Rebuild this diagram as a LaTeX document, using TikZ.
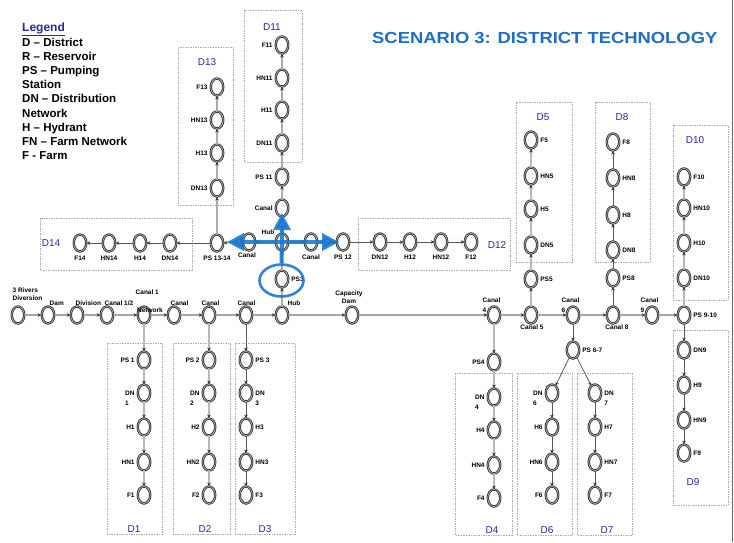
\documentclass[tikz,border=0pt]{standalone}
\usepackage{fontspec}
\usepackage{graphicx}
\setmainfont{Liberation Sans}
\usetikzlibrary{arrows.meta,shapes.geometric}
\definecolor{dblue}{RGB}{40,40,160}
\definecolor{tblue}{RGB}{30,110,195}
\definecolor{hblue}{RGB}{25,118,210}
\begin{document}
\begin{tikzpicture}[x=1pt,y=-1pt,label distance=2pt,
 nd/.style={ellipse,draw=black!80,line width=0.9pt,double=gray!45,double distance=0.6pt,fill=white,minimum width=12.5pt,minimum height=17pt,inner sep=0pt},
 lbl/.style={font=\fontsize{6.5}{7.5}\selectfont\bfseries,inner sep=0.5pt,text=black},
 lbltwo/.style={font=\fontsize{6.5}{10}\selectfont\bfseries,inner sep=0.5pt,text=black,align=left},
 L/.style={label={[lbl]left:#1}},
 R/.style={label={[lbl]right:#1}},
 B/.style={label={[lbl,label distance=3.5pt]below:#1}},
 LL/.style={label={[lbltwo,anchor=north east,yshift=3pt]west:#1}},
 RR/.style={label={[lbltwo,anchor=north west,yshift=3pt]east:#1}},
 dl/.style={font=\fontsize{10}{11}\selectfont,text=dblue,inner sep=0pt},
 dbox/.style={draw=gray!65,line width=0.9pt,dash pattern=on 1.5pt off 1pt},
 fl/.style={draw=gray!70,line width=1.4pt,-{Stealth[length=3.5pt,width=3.5pt,color=black!80]}},
 tk/.style={draw=gray!55,line width=2.4pt,-{Stealth[length=3.5pt,width=3.5pt,color=black!80]}},
 md/.style={draw=gray!65,line width=1.5pt,-{Stealth[length=3.5pt,width=3.5pt,color=black!80]}},
 tn/.style={draw=black!65,line width=0.8pt,-{Stealth[length=3.5pt,width=3.5pt,color=black!80]}},
 ba/.style={draw=hblue,opacity=0.88,line width=4pt,-{Triangle[length=17pt,width=17pt]}}]
\useasboundingbox (0,0) rectangle (734,542);
% right border line
\draw[black!60,line width=1pt] (732.5,0) -- (732.5,542);
% dashed district boxes
\foreach \a/\b/\c/\d in {107/343/162/534, 173/343/230/534, 235/343/295/534,
  455/373/512/535, 517/373/572/535, 577/373/632/535,
  516/102/572/262, 595/102/650/262, 673/125/728/300, 673/330/728/505,
  244/10/302/162, 178/47/233/205, 40/218/192/270, 358/218/510/270}
  \draw[dbox] (\a,\b) rectangle (\c,\d);
% title and legend
\node[font=\fontsize{16}{16}\selectfont\bfseries,text=tblue,anchor=west,inner sep=0pt] (title) at (372,38) {\scalebox{1.15}[1]{SCENARIO 3: DISTRICT TECHNOLOGY}};
\node[font=\fontsize{12}{12}\selectfont\bfseries,text=dblue,anchor=base west,inner sep=0pt] (leghead) at (22,31) {\underline{Legend}};
\node[font=\fontsize{11.5}{14.2}\selectfont\bfseries,align=left,anchor=north west,inner sep=0pt] (legend) at (22,37.5)
 {D – District\\R – Reservoir\\PS – Pumping\\Station\\DN – Distribution\\Network\\H – Hydrant\\FN – Farm Network\\F - Farm};
% main line nodes
\node[nd] (m1) at (18,315) {};
\node[nd] (m2) at (48,315) {};
\node[nd] (m3) at (77,315) {};
\node[nd] (m4) at (107,315) {};
\node[nd] (m5) at (144,315) {};
\node[nd] (m6) at (174,315) {};
\node[nd] (m7) at (209,315) {};
\node[nd] (m8) at (246,315) {};
\node[nd] (m9) at (282,315) {};
\node[nd] (m10) at (352,315) {};
\node[nd] (m11) at (494,315) {};
\node[nd] (m12) at (531,315) {};
\node[nd] (m13) at (573,315) {};
\node[nd] (m14) at (613,315) {};
\node[nd] (m15) at (652,315) {};
\node[nd,R=PS 9-10] (m16) at (684,315) {};
% main line labels
\node[lbl,align=left,anchor=south west] (t1) at (12,301) {3 Rivers\\Diversion};
\node[lbl,anchor=south west] (t2) at (49,306) {Dam};
\node[lbl,anchor=south west] (t3) at (75,306) {Division};
\node[lbl,anchor=south west] (t4) at (104,306) {Canal 1/2};
\node[lbl,anchor=south west] (t5a) at (135,295) {Canal 1};
\node[lbl] (t5b) at (150,310) {Network};
\node[lbl,anchor=south west] (t6) at (170,306) {Canal};
\node[lbl,anchor=south west] (t7) at (201,306) {Canal};
\node[lbl,anchor=south west] (t8) at (237,306) {Canal};
\node[lbl,anchor=south west] (t9) at (287,306) {Hub};
\node[lbl,align=center,anchor=south] (t10) at (349,304) {Capacity\\Dam};
\node[lbltwo,anchor=north west] (t11) at (482,297) {Canal\\4};
\node[lbl,anchor=north] (t12) at (532,324.5) {Canal 5};
\node[lbltwo,anchor=north west] (t13) at (561,297) {Canal\\6};
\node[lbl,anchor=north] (t14) at (617,324.5) {Canal 8};
\node[lbltwo,anchor=north west] (t15) at (640,297) {Canal\\9};
% D1, D2 (labels left), D3 (labels right)
\node[nd,L=PS 1] (ps1) at (144,360) {};
\node[nd,LL=DN\\1] (dn1) at (144,393) {};
\node[nd,L=H1] (h1) at (144,427) {};
\node[nd,L=HN1] (hn1) at (144,462) {};
\node[nd,L=F1] (f1) at (144,495) {};
\node[nd,L=PS 2] (ps2) at (209,360) {};
\node[nd,LL=DN\\2] (dn2) at (209,393) {};
\node[nd,L=H2] (h2) at (209,427) {};
\node[nd,L=HN2] (hn2) at (209,462) {};
\node[nd,L=F2] (f2) at (209,495) {};
\node[nd,R=PS 3] (ps3) at (246,360) {};
\node[nd,RR=DN\\3] (dn3) at (246,393) {};
\node[nd,R=H3] (h3) at (246,427) {};
\node[nd,R=HN3] (hn3) at (246,462) {};
\node[nd,R=F3] (f3) at (246,495) {};
% D4, D6, D7
\node[nd,L=PS4] (ps4) at (494,362) {};
\node[nd,LL=DN\\4] (dn4) at (494,397) {};
\node[nd,L=H4] (h4) at (494,430) {};
\node[nd,L=HN4] (hn4) at (494,465) {};
\node[nd,L=F4] (f4) at (494,498) {};
\node[nd,R=PS 6-7] (ps67) at (573,350) {};
\node[nd,LL=DN\\6] (dn6) at (552,393) {};
\node[nd,L=H6] (h6) at (552,427) {};
\node[nd,L=HN6] (hn6) at (552,462) {};
\node[nd,L=F6] (f6) at (552,495) {};
\node[nd,RR=DN\\7] (dn7) at (595,393) {};
\node[nd,R=H7] (h7) at (595,427) {};
\node[nd,R=HN7] (hn7) at (595,462) {};
\node[nd,R=F7] (f7) at (595,495) {};
% D5, D8, D10, D9
\node[nd,R=PS5] (ps5) at (531,279) {};
\node[nd,R=DN5] (dn5) at (531,245) {};
\node[nd,R=H5] (h5) at (531,209) {};
\node[nd,R=HN5] (hn5) at (531,176) {};
\node[nd,R=F5] (f5) at (531,140) {};
\node[nd,R=PS8] (ps8) at (613,278) {};
\node[nd,R=DN8] (dn8) at (613,250) {};
\node[nd,R=H8] (h8) at (613,215) {};
\node[nd,R=HN8] (hn8) at (613,178) {};
\node[nd,R=F8] (f8) at (613,142) {};
\node[nd,R=DN10] (dn10) at (684,278) {};
\node[nd,R=H10] (h10) at (684,243) {};
\node[nd,R=HN10] (hn10) at (684,208) {};
\node[nd,R=F10] (f10) at (684,177) {};
\node[nd,R=DN9] (dn9) at (684,350) {};
\node[nd,R=H9] (h9) at (684,385) {};
\node[nd,R=HN9] (hn9) at (684,420) {};
\node[nd,R=F9] (f9) at (684,453) {};
% upper network
\node[nd,R=PS3] (psc) at (282,279) {};
\node[nd] (hub) at (282,242) {};
\node[lbl,anchor=south east] (thub) at (275,235.5) {Hub};
\node[nd,L=Canal] (c11) at (282,208) {};
\node[nd,L=PS 11] (ps11) at (282,177) {};
\node[nd,L=DN11] (dn11) at (282,143) {};
\node[nd,L=H11] (h11) at (282,110) {};
\node[nd,L=HN11] (hn11) at (282,78) {};
\node[nd,L=F11] (f11) at (282,45) {};
\node[nd] (cl) at (249,242) {};
\node[lbl,anchor=north] (tcl) at (247,252.5) {Canal};
\node[nd,B=Canal] (cr) at (311,242) {};
\node[nd,B=PS 12] (ps12) at (343,242) {};
\node[nd,B=DN12] (dn12) at (380,242) {};
\node[nd,B=H12] (h12) at (410,242) {};
\node[nd,B=HN12] (hn12) at (441,242) {};
\node[nd,B=F12] (f12) at (471,242) {};
\node[nd,B=PS 13-14] (ps1314) at (217,243) {};
\node[nd,L=DN13] (dn13) at (217,188) {};
\node[nd,L=H13] (h13) at (217,153) {};
\node[nd,L=HN13] (hn13) at (217,120) {};
\node[nd,L=F13] (f13) at (217,87) {};
\node[nd,B=DN14] (dn14) at (170,243) {};
\node[nd,B=H14] (h14) at (140,243) {};
\node[nd,B=HN14] (hn14) at (109,243) {};
\node[nd,B=F14] (f14) at (80,243) {};
% district labels
\node[dl] (D1) at (134,529) {D1};
\node[dl] (D2) at (205,529) {D2};
\node[dl] (D3) at (265,529) {D3};
\node[dl] (D4) at (492,530) {D4};
\node[dl] (D6) at (547,530) {D6};
\node[dl] (D7) at (607,530) {D7};
\node[dl] (D5) at (543,117) {D5};
\node[dl] (D8) at (622,117) {D8};
\node[dl] (D10) at (695,140) {D10};
\node[dl] (D9) at (693,482) {D9};
\node[dl] (D11) at (272,27) {D11};
\node[dl] (D13) at (207,62) {D13};
\node[dl] (D14) at (51,243) {D14};
\node[dl] (D12) at (497,245) {D12};
% connectors
\foreach \a/\b in {m1/m2,m2/m3,m3/m4,m4/m5,m5/m6,m6/m7,m7/m8,m8/m9,m9/m10,m10/m11,m11/m12,m12/m13,m13/m14,m14/m15,m15/m16}
  \draw[fl] (\a) -- (\b);
\foreach \a/\b in {m5/ps1,ps1/dn1,dn1/h1,h1/hn1,hn1/f1,
                   m7/ps2,ps2/dn2,dn2/h2,h2/hn2,hn2/f2,
                   m11/ps4,ps4/dn4,dn4/h4,h4/hn4,hn4/f4,
                   m12/ps5,ps5/dn5,dn5/h5,h5/hn5,hn5/f5,
                   m16/dn10,dn10/h10,h10/hn10,hn10/f10}
  \draw[tk] (\a) -- (\b);
\foreach \a/\b in {m8/ps3,ps3/dn3,dn3/h3,h3/hn3,hn3/f3,
                   m13/ps67,ps67/dn6,dn6/h6,h6/hn6,hn6/f6,ps67/dn7,dn7/h7,h7/hn7,hn7/f7,
                   m14/ps8,ps8/dn8,dn8/h8,h8/hn8,hn8/f8,
                   m16/dn9,dn9/h9,h9/hn9,hn9/f9,
                   cr/ps12,ps12/dn12,dn12/h12,h12/hn12,hn12/f12,
                   ps1314/dn14,dn14/h14,h14/hn14,hn14/f14}
  \draw[tn] (\a) -- (\b);
\foreach \a/\b in {m9/psc,psc/hub,hub/cl,cl/ps1314,hub/cr,hub/c11,c11/ps11,ps11/dn11,dn11/h11,h11/hn11,hn11/f11,
                   ps1314/dn13,dn13/h13,h13/hn13,hn13/f13}
  \draw[md] (\a) -- (\b);
% highlighted flows
\node[ellipse,draw=hblue,opacity=0.9,line width=2.6pt,minimum width=44pt,minimum height=32pt,inner sep=0pt] (ring) at (281.5,280.5) {};
\coordinate (bu) at (282,213);
\coordinate (bl) at (227,242);
\coordinate (br) at (339,242);
\draw[draw=hblue,opacity=0.88,line width=4pt] (hub.center) -- (ring.north);
\draw[ba] (hub.center) -- (bu);
\draw[ba] (hub.center) -- (bl);
\draw[ba] (hub.center) -- (br);
\end{tikzpicture}
\end{document}
